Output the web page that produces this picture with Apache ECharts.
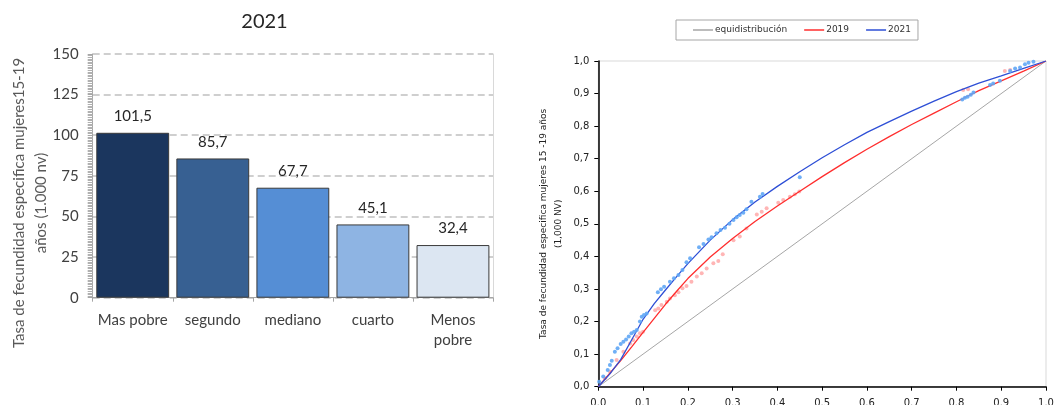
<!DOCTYPE html>
<html>
<head>
<meta charset="utf-8">
<script src="https://cdn.jsdelivr.net/npm/echarts@6/dist/echarts.min.js"></script>
<style>html,body{margin:0;padding:0;background:#fff;}#c{width:1062px;height:405px;}</style>
</head>
<body>
<div id="c"></div>
<script>
// ---------- Left chart data ----------
const barTitle = '2021';
const barCategories = ['Mas pobre', 'segundo', 'mediano', 'cuarto', 'Menos\npobre'];
const barValues = [101.5, 85.7, 67.7, 45.1, 32.4];
const barColors = ['#1b365e', '#376092', '#558ed5', '#8eb4e3', '#dce6f2'];
const barYAxisName = 'Tasa de fecundidad especifica mujeres15-19\naños (1.000 nv)';

// ---------- Right chart data ----------
const legendNames = ['equidistribución', '2019', '2021'];
const lineEqui = [[0, 0], [1, 1]];
const curve2019 = [[0,0],[0.025,0.04],[0.05,0.08],[0.075,0.123],[0.1,0.167],[0.125,0.21],[0.15,0.253],[0.175,0.293],[0.2,0.332],[0.25,0.398],[0.3,0.455],[0.35,0.507],[0.4,0.555],[0.45,0.6],[0.5,0.645],[0.55,0.688],[0.6,0.729],[0.65,0.768],[0.7,0.805],[0.75,0.84],[0.8,0.875],[0.85,0.909],[0.9,0.939],[0.95,0.969],[1,1]];
const curve2021 = [[0,0],[0.025,0.038],[0.05,0.083],[0.075,0.145],[0.1,0.207],[0.125,0.255],[0.15,0.297],[0.175,0.338],[0.2,0.378],[0.25,0.45],[0.3,0.513],[0.35,0.567],[0.4,0.615],[0.45,0.66],[0.5,0.703],[0.55,0.743],[0.6,0.781],[0.65,0.814],[0.7,0.846],[0.75,0.877],[0.8,0.906],[0.85,0.932],[0.9,0.954],[0.95,0.977],[1,1]];
const dots2021 = [[0.002,0.015],[0.011,0.031],[0.021,0.051],[0.026,0.067],[0.03,0.08],[0.037,0.107],[0.043,0.118],[0.05,0.131],[0.056,0.138],[0.062,0.145],[0.068,0.154],[0.074,0.164],[0.08,0.169],[0.086,0.174],[0.093,0.2],[0.097,0.215],[0.102,0.22],[0.108,0.225],[0.133,0.29],[0.14,0.299],[0.147,0.307],[0.16,0.322],[0.169,0.333],[0.179,0.343],[0.188,0.358],[0.197,0.382],[0.205,0.394],[0.225,0.428],[0.235,0.438],[0.246,0.452],[0.253,0.459],[0.264,0.471],[0.273,0.481],[0.283,0.488],[0.293,0.5],[0.302,0.512],[0.309,0.52],[0.316,0.527],[0.324,0.534],[0.331,0.545],[0.342,0.568],[0.361,0.583],[0.367,0.592],[0.45,0.643],[0.813,0.882],[0.819,0.887],[0.825,0.89],[0.832,0.896],[0.838,0.903],[0.875,0.926],[0.882,0.931],[0.897,0.939],[0.92,0.969],[0.931,0.977],[0.942,0.98],[0.953,0.99],[0.961,0.995],[0.972,0.998],[0.998,1.003]];
const dots2019 = [[0.015,0.026],[0.026,0.046],[0.041,0.082],[0.056,0.107],[0.071,0.133],[0.078,0.143],[0.086,0.154],[0.093,0.164],[0.1,0.169],[0.127,0.235],[0.134,0.24],[0.141,0.251],[0.153,0.261],[0.16,0.271],[0.171,0.281],[0.179,0.29],[0.188,0.302],[0.197,0.309],[0.208,0.322],[0.22,0.338],[0.231,0.348],[0.242,0.363],[0.257,0.379],[0.268,0.386],[0.278,0.407],[0.302,0.45],[0.316,0.461],[0.331,0.486],[0.354,0.529],[0.365,0.537],[0.376,0.548],[0.402,0.565],[0.413,0.573],[0.428,0.583],[0.439,0.591],[0.449,0.599],[0.815,0.911],[0.826,0.913],[0.908,0.969],[0.92,0.972]];
const rightYAxisName = 'Tasa de fecundidad especifica mujeres 15 -19 años\n(1,000 NV)';

const leftFont = 'Lato';
const rightFont = 'DejaVu Sans';
const comma1 = v => v.toFixed(1).replace('.', ',');

const chart = echarts.init(document.getElementById('c'), null, {renderer: 'canvas'});
chart.setOption({
  animation: false,
  backgroundColor: '#ffffff',
  graphic: [
    {type: 'text', x: 264.5, y: 22, style: {text: barTitle, font: '20px ' + leftFont, fill: '#262626', align: 'center', verticalAlign: 'middle'}},
    {type: 'text', x: 30, y: 203, rotation: Math.PI / 2, style: {text: barYAxisName, font: '15px ' + leftFont, fill: '#595959', align: 'center', verticalAlign: 'middle', lineHeight: 22}}
  ],
  legend: {
    data: legendNames,
    left: 676, top: 20,
    padding: [4, 7, 4, 17],
    itemGap: 17, itemWidth: 20, itemHeight: 1.5,
    icon: 'rect',
    borderColor: '#a6a6a6', borderWidth: 1,
    textStyle: {fontFamily: rightFont, fontSize: 9, color: '#333', lineHeight: 12, padding: [0, 0, 0, -3]}
  },
  grid: [
    {left: 92.7, right: 569, top: 54, bottom: 107.3, outerBoundsMode: 'none'},
    {left: 598.3, right: 16, top: 61, bottom: 18.3, show: true, borderColor: '#d9d9d9', borderWidth: 1, outerBoundsMode: 'none'}
  ],
  xAxis: [
    {
      type: 'category', gridIndex: 0, data: barCategories,
      axisLine: {lineStyle: {color: '#a6a6a6', width: 1}},
      axisTick: {show: true, length: 4, lineStyle: {color: '#a6a6a6'}},
      axisLabel: {fontFamily: leftFont, fontSize: 15, color: '#404040', margin: 12, lineHeight: 20, interval: 0}
    },
    {
      type: 'value', gridIndex: 1, min: 0, max: 1, interval: 0.1,
      axisLine: {lineStyle: {color: '#000', width: 1.5}},
      axisTick: {show: true, length: 4, lineStyle: {color: '#000'}},
      axisLabel: {fontFamily: rightFont, fontSize: 10, color: '#222', margin: 12, formatter: v => v.toFixed(1)},
      splitLine: {show: false}
    }
  ],
  yAxis: [
    {
      type: 'value', gridIndex: 0, min: 0, max: 150, interval: 25,
      axisLine: {show: true, lineStyle: {color: '#a6a6a6'}},
      axisTick: {show: true, length: 5, lineStyle: {color: '#a6a6a6'}},
      minorTick: {show: true, splitNumber: 25, length: 5, lineStyle: {color: '#b0b0b0'}},
      axisLabel: {fontFamily: leftFont, fontSize: 15, color: '#404040', margin: 14},
      splitLine: {show: true, lineStyle: {color: '#c0c0c0', width: 1.5, type: [7, 4]}}
    },
    {
      type: 'value', gridIndex: 0, min: 0, max: 150, interval: 25, position: 'right',
      axisLine: {show: true, lineStyle: {color: '#d9d9d9'}},
      axisTick: {show: false}, axisLabel: {show: false}, splitLine: {show: false}
    },
    {
      type: 'value', gridIndex: 1, min: 0, max: 1, interval: 0.1,
      axisLine: {show: true, lineStyle: {color: '#000', width: 1.5}},
      axisTick: {show: true, length: 4, lineStyle: {color: '#000'}},
      axisLabel: {fontFamily: rightFont, fontSize: 10, color: '#222', margin: 9, formatter: comma1},
      splitLine: {show: false},
      name: rightYAxisName, nameLocation: 'middle', nameGap: 32,
      nameTextStyle: {fontFamily: rightFont, fontSize: 9, color: '#222', lineHeight: 15}
    }
  ],
  series: [
    {
      type: 'bar', xAxisIndex: 0, yAxisIndex: 0,
      data: barValues.map((v, i) => ({value: v, itemStyle: {color: barColors[i]}})),
      barCategoryGap: '9%',
      itemStyle: {borderColor: '#3a3a3a', borderWidth: 1},
      label: {show: true, position: 'top', distance: 9, fontFamily: leftFont, fontSize: 15, color: '#262626', formatter: p => comma1(p.value)},
      z: 3
    },
    {name: 'equidistribución', type: 'line', xAxisIndex: 1, yAxisIndex: 2, data: lineEqui, symbol: 'none', lineStyle: {color: '#a6a6a6', width: 1}, itemStyle: {color: '#a6a6a6'}},
    {name: '2019', type: 'line', xAxisIndex: 1, yAxisIndex: 2, data: curve2019, symbol: 'none', lineStyle: {color: '#ff2e2e', width: 1.3}, itemStyle: {color: '#ff2e2e'}},
    {name: '2021', type: 'line', xAxisIndex: 1, yAxisIndex: 2, data: curve2021, symbol: 'none', lineStyle: {color: '#2e4fd6', width: 1.3}, itemStyle: {color: '#2e4fd6'}},
    {name: 'p2019', type: 'scatter', xAxisIndex: 1, yAxisIndex: 2, data: dots2019, symbolSize: 4, itemStyle: {color: '#ffa8a8', opacity: 0.85}, z: 1},
    {name: 'p2021', type: 'scatter', xAxisIndex: 1, yAxisIndex: 2, data: dots2021, symbolSize: 4, itemStyle: {color: '#5fa6f5', opacity: 0.9}, z: 3}
  ]
});
</script>
</body>
</html>
